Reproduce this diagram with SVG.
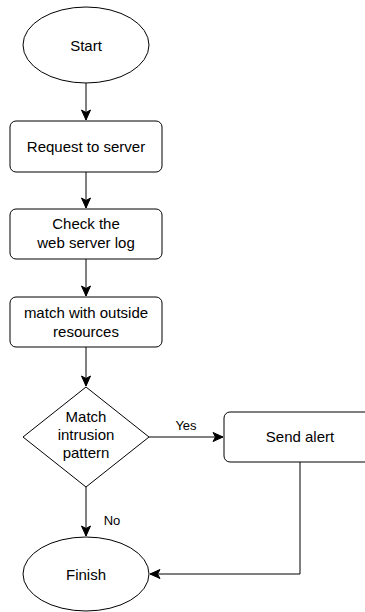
<svg xmlns="http://www.w3.org/2000/svg" width="365" height="612" viewBox="0 0 365 612">
<defs>
<style>
.shape{fill:#fff;stroke:#000;stroke-width:1}
.lbl{font-family:"Liberation Sans",Arial,sans-serif;font-size:15px;fill:#000;text-anchor:middle}
.elbl{font-family:"Liberation Sans",Arial,sans-serif;font-size:13px;fill:#000;text-anchor:middle}
.edge{fill:none;stroke:#000;stroke-width:1}
</style>
<marker id="arr" markerUnits="userSpaceOnUse" markerWidth="12" markerHeight="12" viewBox="0 0 12 12" refX="11" refY="6" orient="auto">
<path d="M1,1.5 L11,6 L1,10.5 L3.5,6 Z" fill="#000" stroke="#000" stroke-width="1"/>
</marker>
</defs>
<rect width="365" height="612" fill="#fff"/>
<g id="connectors">
<path class="edge" d="M86,83 V120" marker-end="url(#arr)"/>
<path class="edge" d="M86,172 V208" marker-end="url(#arr)"/>
<path class="edge" d="M86,259 V296" marker-end="url(#arr)"/>
<path class="edge" d="M86,347 V386" marker-end="url(#arr)"/>
<path class="edge" d="M149,437 H223" marker-end="url(#arr)"/>
<path class="edge" d="M86,487 V536" marker-end="url(#arr)"/>
<path class="edge" d="M300,462 V574 H150" marker-end="url(#arr)"/>
<text class="elbl" x="186" y="430">Yes</text>
<text class="elbl" x="112" y="525">No</text>
</g>
<g id="start">
<ellipse class="shape" cx="86" cy="45" rx="63" ry="38"/>
<text class="lbl" x="86" y="51">Start</text>
</g>
<g id="request">
<rect class="shape" x="10" y="121" width="152" height="51" rx="6"/>
<text class="lbl" x="86" y="152">Request to server</text>
</g>
<g id="check">
<rect class="shape" x="10" y="209" width="152" height="50" rx="6"/>
<text class="lbl" x="86" y="229">Check the</text>
<text class="lbl" x="86" y="248">web server log</text>
</g>
<g id="match">
<rect class="shape" x="10" y="297" width="152" height="50" rx="6"/>
<text class="lbl" x="86" y="318">match with outside</text>
<text class="lbl" x="86" y="337">resources</text>
</g>
<g id="decision">
<path class="shape" d="M86,387 L149,437 L86,487 L23,437 Z"/>
<text class="lbl" x="86" y="422">Match</text>
<text class="lbl" x="86" y="440">intrusion</text>
<text class="lbl" x="86" y="458">pattern</text>
</g>
<g id="alert">
<rect class="shape" x="224" y="412" width="152" height="50" rx="6"/>
<text class="lbl" x="300" y="442">Send alert</text>
</g>
<g id="finish">
<ellipse class="shape" cx="86" cy="574" rx="63" ry="37"/>
<text class="lbl" x="86" y="580">Finish</text>
</g>
</svg>
